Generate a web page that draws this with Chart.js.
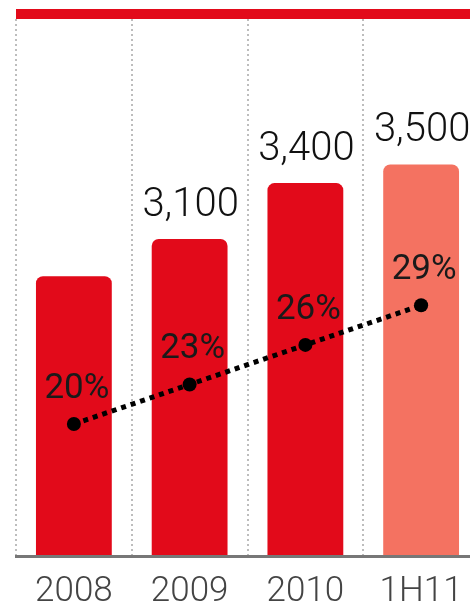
<!DOCTYPE html>
<html>
<head>
<meta charset="utf-8">
<script src="https://cdn.jsdelivr.net/npm/chart.js@4"></script>
<style>
  html, body { margin: 0; padding: 0; background: #fff; overflow: hidden; }
  #wrap { width: 486px; height: 607px; }
</style>
</head>
<body>
<div id="wrap"><canvas id="chart" width="486" height="607"></canvas></div>
<script>
// Periodos, ventas (barras) y cuota (línea punteada)
const periods = ["2008", "2009", "2010", "1H11"];
const sales = [2900, 3100, 3400, 3500];
const salesLabels = [null, "3,100", "3,400", "3,500"];
const share = [20, 23, 26, 29];
const barColors = ["#e20a1a", "#e20a1a", "#e20a1a", "#f47261"];

// franja roja superior + etiquetas de valores
const decorPlugin = {
    id: "decor",
    beforeDraw(chart) {
        const { ctx, chartArea } = chart;
        ctx.save();
        ctx.fillStyle = "#e20a1a";
        ctx.fillRect(chartArea.left, 9, chart.width - chartArea.left, 10);
        ctx.restore();
    },
    afterDatasetsDraw(chart) {
        const { ctx } = chart;
        ctx.save();
        ctx.textAlign = "center";
        ctx.textBaseline = "middle";

        // valores sobre las barras
        ctx.font = "300 40px Roboto";
        ctx.fillStyle = "#111";
        chart.getDatasetMeta(1).data.forEach((bar, i) => {
            if (!salesLabels[i]) return;
            ctx.fillText(salesLabels[i], bar.x + 1, bar.y - 33);
        });

        // porcentajes sobre los puntos
        ctx.font = "400 35px Roboto";
        ctx.fillStyle = "#1a1a1a";
        chart.getDatasetMeta(0).data.forEach((pt, i) => {
            ctx.fillText(share[i] + "%", pt.x + 3, pt.y - 35);
        });
        ctx.restore();
    }
};

new Chart(document.getElementById("chart"), {
    type: "bar",
    data: {
        labels: periods,
        datasets: [
            {
                type: "line",
                data: share,
                yAxisID: "y1",
                order: 0,
                borderColor: "#000",
                borderWidth: 5,
                borderDash: [5, 5],
                borderCapStyle: "butt",
                pointRadius: 7,
                pointBackgroundColor: "#000",
                pointBorderWidth: 0,
                tension: 0,
                fill: false
            },
            {
                data: sales,
                yAxisID: "y",
                order: 1,
                backgroundColor: barColors,
                categoryPercentage: 1,
                barPercentage: 0.655,
                borderSkipped: false,
                borderRadius: { topLeft: 7, topRight: 7, bottomLeft: 3, bottomRight: 3 }
            }
        ]
    },
    options: {
        responsive: false,
        animation: false,
        layout: { padding: { left: 16, right: 2, top: 19, bottom: -21 } },
        plugins: { legend: { display: false }, tooltip: { enabled: false } },
        scales: {
            x: {
                grid: { color: "#bdbdbd", lineWidth: 2, drawTicks: false, offset: true },
                border: { display: true, color: "#777", width: 3, dash: [2, 3], z: 1 },
                ticks: {
                    color: "#444",
                    padding: 15,
                    font: { family: "Roboto", size: 35, weight: "300" }
                }
            },
            y: { display: false, min: 1400, max: 4280 },
            y1: { display: false, min: 10, max: 50.7 }
        }
    },
    plugins: [decorPlugin]
});
</script>
</body>
</html>
